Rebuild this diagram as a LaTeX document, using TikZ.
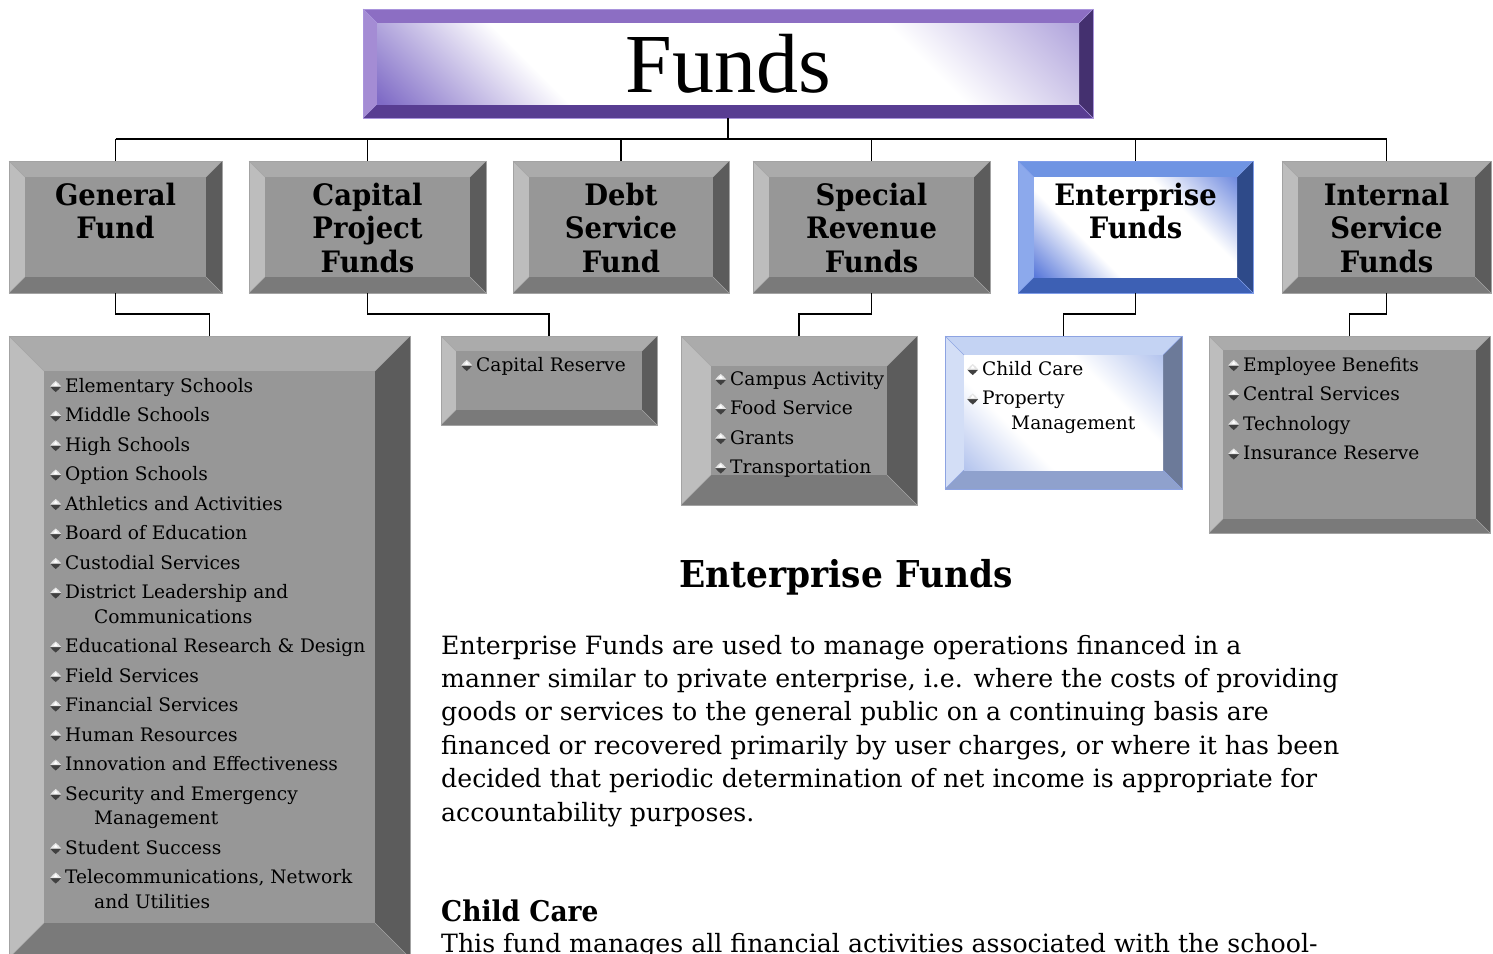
\documentclass[tikz,border=0pt]{standalone}
\usepackage{fontspec}
\setmainfont{DejaVu Serif}
\newfontfamily\titlefont{Liberation Serif}
\newfontfamily\headfont{DejaVu Serif}[FakeStretch=0.93]
\usetikzlibrary{calc}
\definecolor{gTop}{HTML}{ABABAB}
\definecolor{gLeft}{HTML}{BDBDBD}
\definecolor{gMid}{HTML}{979797}
\definecolor{gBot}{HTML}{7A7A7A}
\definecolor{gRight}{HTML}{5C5C5C}
\definecolor{gLine}{HTML}{A3A3A3}
\definecolor{pTop}{HTML}{8C6EC3}
\definecolor{pLeft}{HTML}{A48CD4}
\definecolor{pBot}{HTML}{583D92}
\definecolor{pRight}{HTML}{44306F}
\definecolor{pLine}{HTML}{A994DC}
\definecolor{pIn}{HTML}{7F6BC6}
\definecolor{bTop}{HTML}{6F94E3}
\definecolor{bLeft}{HTML}{8CA9EC}
\definecolor{bBot}{HTML}{3D60B4}
\definecolor{bRight}{HTML}{2E4A89}
\definecolor{bLine}{HTML}{7E9CE9}
\definecolor{bIn}{HTML}{5A79DA}
\definecolor{lTop}{HTML}{C4D3F3}
\definecolor{lLeft}{HTML}{D3DEF6}
\definecolor{lBot}{HTML}{8FA1CD}
\definecolor{lRight}{HTML}{6C7A99}
\definecolor{lLine}{HTML}{8DA3E2}
\definecolor{lIn}{HTML}{B5C5EE}
\pgfdeclarehorizontalshading{pshade}{100bp}{color(0bp)=(pIn); color(15bp)=(pIn); color(32bp)=(white); color(68bp)=(white); color(85bp)=(pIn!60!white); color(100bp)=(pIn!60!white)}
\pgfdeclarehorizontalshading{bshade}{100bp}{color(0bp)=(bIn); color(15bp)=(bIn); color(35bp)=(white); color(65bp)=(white); color(85bp)=(bIn!85!white); color(100bp)=(bIn!85!white)}
\pgfdeclarehorizontalshading{lshade}{100bp}{color(0bp)=(lIn); color(15bp)=(lIn); color(35bp)=(white); color(65bp)=(white); color(85bp)=(lIn); color(100bp)=(lIn)}
% #1 node, #2 bevel, #3 top, #4 left, #5 bottom, #6 right, #7 inner, #8 line
\newcommand\bevelbox[8]{%
  \coordinate (o1) at (#1.north west);
  \coordinate (o2) at (#1.north east);
  \coordinate (o3) at (#1.south east);
  \coordinate (o4) at (#1.south west);
  \coordinate (i1) at ($(o1)+(#2,#2)$);
  \coordinate (i2) at ($(o2)+(-#2,#2)$);
  \coordinate (i3) at ($(o3)+(-#2,-#2)$);
  \coordinate (i4) at ($(o4)+(#2,-#2)$);
  \fill[#3] (o1)--(o2)--(i2)--(i1)--cycle;
  \fill[#4] (o1)--(i1)--(i4)--(o4)--cycle;
  \fill[#5] (o4)--(i4)--(i3)--(o3)--cycle;
  \fill[#6] (o2)--(o3)--(i3)--(i2)--cycle;
  \path[#7] (i1) rectangle (i3);
  \draw[#8, line width=0.6pt] (o1)--(i1) (o2)--(i2) (o3)--(i3) (o4)--(i4);
  \draw[#8, line width=1pt] (o1) rectangle (o3);
}
\newcommand\greybox[2]{\bevelbox{#1}{#2}{gTop}{gLeft}{gBot}{gRight}{fill=gMid}{gLine}}
\newcommand\bul{\tikz[x=1pt,y=1pt,baseline=0pt]{%
  \fill[black!75] (0,5.5) .. controls (2,3.5) and (3.5,1) .. (5.5,0) .. controls (7.5,1) and (9,3.5) .. (11,5.5) -- cycle;
  \fill[white!80!gray] (0,5.5) .. controls (2,7.5) and (3.5,10) .. (5.5,11) .. controls (7.5,10) and (9,7.5) .. (11,5.5) -- cycle;
  \fill[white] (3.5,6.5) .. controls (4.5,8.5) .. (5.5,9.5) .. controls (6.5,8.5) .. (7.5,6.5) -- cycle;}\hspace{4pt}}
\newcommand\cont{\hspace*{44pt}}
\newcommand\lines[2][460pt]{\parbox[t]{#1}{\raggedright #2}}
\newcommand\hlines[1]{\parbox[t]{240pt}{\centering #1}}
\tikzset{
  box/.style={draw=none, inner sep=0pt, outer sep=0pt, anchor=north west},
  head/.style={anchor=base, inner sep=0pt, font=\headfont\bfseries\fontsize{29.5}{33.5}\selectfont},
  lst/.style={anchor=base west, inner sep=0pt, font=\fontsize{18.6}{24.5}\selectfont},
  link/.style={draw=black, line width=1.5pt},
  bus/.style={draw=black, line width=2pt},
}
\begin{document}
\begin{tikzpicture}[x=1pt,y=-1pt]
\useasboundingbox (0,0) rectangle (1493,953);
\clip (0,0) rectangle (1493,953);
% top box
\node[box, minimum width=730pt, minimum height=109pt] (funds) at (363,9) {};
\bevelbox{funds}{14}{pTop}{pLeft}{pBot}{pRight}{shading=pshade, shading angle=45}{pLine}
\node[anchor=base, inner sep=0pt, font=\titlefont\fontsize{84}{84}\selectfont] (funds-t) at ($(funds.north)+(0,83)$) {Funds};
% second level
\node[box, minimum width=213pt, minimum height=132pt] (gf) at (9,161) {};
\node[box, minimum width=237pt, minimum height=132pt] (cp) at (249,161) {};
\node[box, minimum width=216pt, minimum height=132pt] (ds) at (513,161) {};
\node[box, minimum width=237pt, minimum height=132pt] (sr) at (753,161) {};
\node[box, minimum width=235pt, minimum height=132pt] (ef) at (1018,161) {};
\node[box, minimum width=209pt, minimum height=132pt] (is) at (1282,161) {};
\greybox{gf}{16}
\greybox{cp}{16}
\greybox{ds}{16}
\greybox{sr}{16}
\bevelbox{ef}{16}{bTop}{bLeft}{bBot}{bRight}{shading=bshade, shading angle=45}{bLine}
\greybox{is}{16}
\node[head] (gf-t) at ($(gf.north)+(0,44)$) {\hlines{General\\Fund}};
\node[head] (cp-t) at ($(cp.north)+(0,44)$) {\hlines{Capital\\Project\\Funds}};
\node[head] (ds-t) at ($(ds.north)+(0,44)$) {\hlines{Debt\\Service\\Fund}};
\node[head] (sr-t) at ($(sr.north)+(0,44)$) {\hlines{Special\\Revenue\\Funds}};
\node[head] (ef-t) at ($(ef.north)+(0,44)$) {\hlines{Enterprise\\Funds}};
\node[head] (is-t) at ($(is.north)+(0,44)$) {\hlines{Internal\\Service\\Funds}};
% third level
\node[box, minimum width=401pt, minimum height=622pt] (gl) at (9,336) {};
\node[box, minimum width=216pt, minimum height=89pt] (cl) at (441,336) {};
\node[box, minimum width=236pt, minimum height=169pt] (sl) at (681,336) {};
\node[box, minimum width=237pt, minimum height=153pt] (el) at (945,336) {};
\node[box, minimum width=281pt, minimum height=197pt] (il) at (1209,336) {};
\greybox{gl}{35}
\greybox{cl}{15}
\greybox{sl}{30}
\bevelbox{el}{19}{lTop}{lLeft}{lBot}{lRight}{shading=lshade, shading angle=45}{lLine}
\greybox{il}{14}
\node[lst] (gl-t) at ($(gl.north west)+(41,56)$) {\lines{\bul Elementary Schools\\[5pt]\bul Middle Schools\\[5pt]\bul High Schools\\[5pt]\bul Option Schools\\[5pt]\bul Athletics and Activities\\[5pt]\bul Board of Education\\[5pt]\bul Custodial Services\\[5pt]\bul District Leadership and\\\cont Communications\\[5pt]\bul Educational Research \& Design\\[5pt]\bul Field Services\\[5pt]\bul Financial Services\\[5pt]\bul Human Resources\\[5pt]\bul Innovation and Effectiveness\\[5pt]\bul Security and Emergency\\\cont Management\\[5pt]\bul Student Success\\[5pt]\bul Telecommunications, Network\\\cont and Utilities}};
\node[lst] (cl-t) at ($(cl.north west)+(20,35)$) {\lines{\bul Capital Reserve}};
\node[lst] (sl-t) at ($(sl.north west)+(34,49)$) {\lines{\bul Campus Activity\\[5pt]\bul Food Service\\[5pt]\bul Grants\\[5pt]\bul Transportation}};
\node[lst] (el-t) at ($(el.north west)+(22,39)$) {\lines{\bul Child Care\\[5pt]\bul Property\\\cont Management}};
\node[lst] (il-t) at ($(il.north west)+(19,35)$) {\lines{\bul Employee Benefits\\[5pt]\bul Central Services\\[5pt]\bul Technology\\[5pt]\bul Insurance Reserve}};
% connectors
\coordinate (hub) at ($(funds.south)+(0,21)$);
\draw[bus] (funds.south) -- (hub);
\draw[bus] (hub -| gf.north) -- (hub -| is.north);
\foreach \n in {gf,cp,ds,sr,ef,is} {\draw[link] (hub -| \n.north) -- (\n.north);}
\draw[link] (gf.south) -- ++(0,21) -| (gl.north);
\draw[link] (cp.south) -- ++(0,21) -| (cl.north);
\draw[link] (sr.south) -- ++(0,21) -| (sl.north);
\draw[link] (ef.south) -- ++(0,21) -| (el.north);
\draw[link] (is.south) -- ++(0,21) -| (il.north);
% description text
\node[anchor=base, inner sep=0pt, font=\headfont\bfseries\fontsize{37}{40}\selectfont] (h1) at (846,587) {Enterprise Funds};
\node[anchor=base west, inner sep=0pt, font=\fontsize{25.2}{33.4}\selectfont] (p1) at (441,654) {\lines[1000pt]{Enterprise Funds are used to manage operations financed in a\\manner similar to private enterprise, i.e. where the costs of providing\\goods or services to the general public on a continuing basis are\\financed or recovered primarily by user charges, or where it has been\\decided that periodic determination of net income is appropriate for\\accountability purposes.}};
\node[anchor=base west, inner sep=0pt, font=\headfont\bfseries\fontsize{28.5}{31}\selectfont] (h2) at (441,921) {Child Care};
\node[anchor=base west, inner sep=0pt, font=\fontsize{25.2}{33.4}\selectfont] (p2) at (441,952) {This fund manages all financial activities associated with the school-};
\end{tikzpicture}
\end{document}
